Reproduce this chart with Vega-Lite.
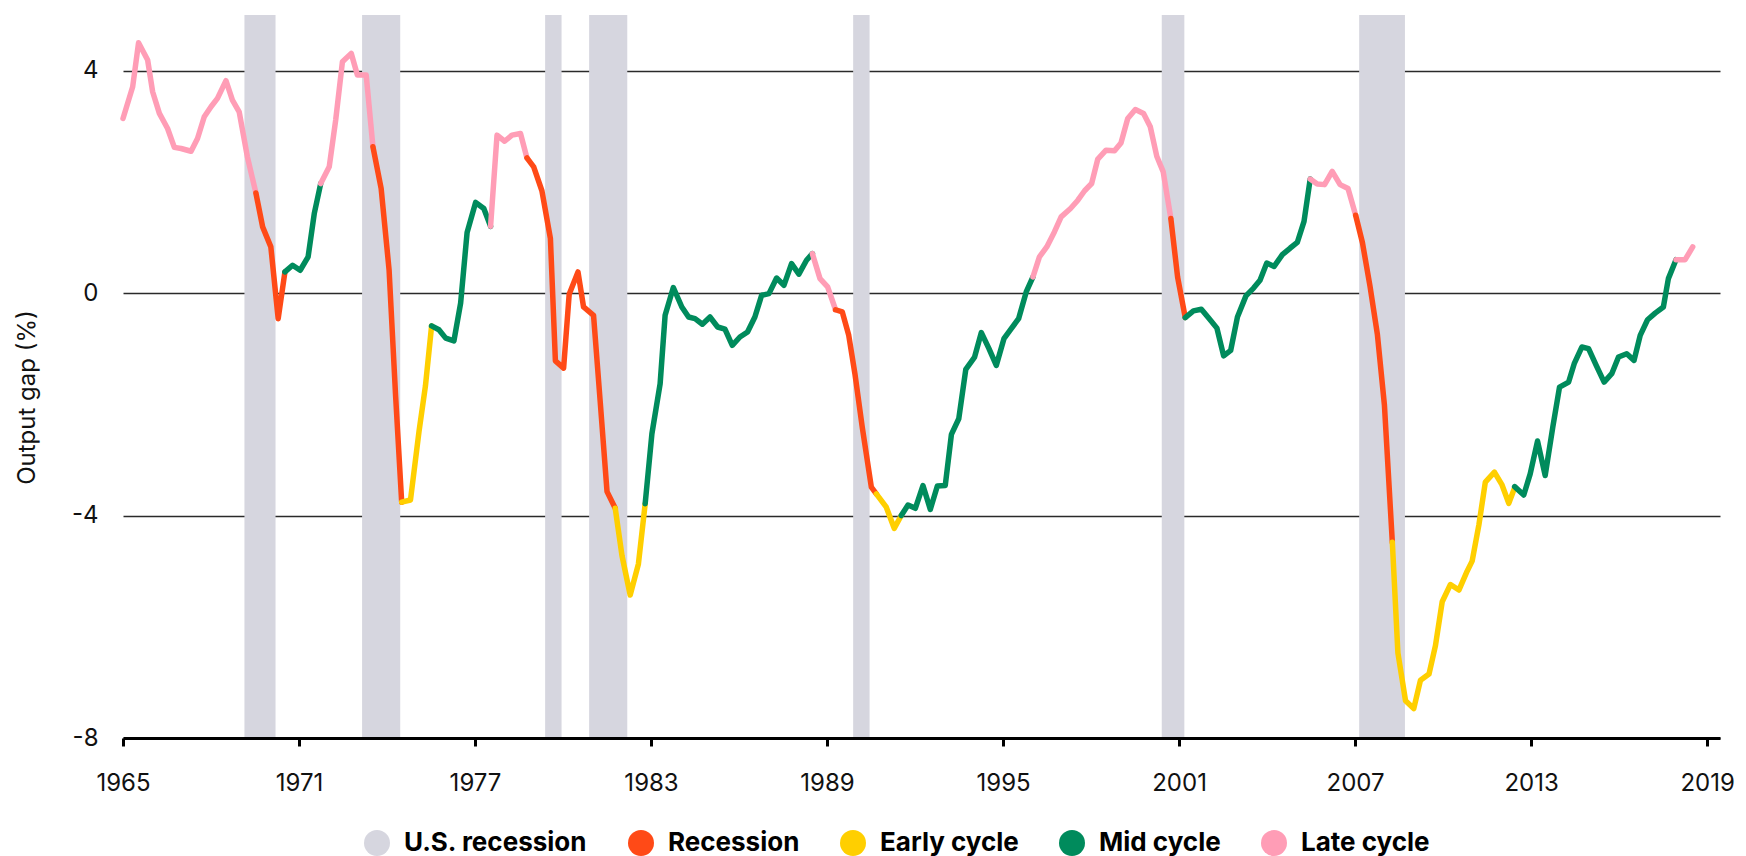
{
  "$schema": "https://vega.github.io/schema/vega-lite/v6.json",
  "autosize": "none",
  "width": 1597,
  "height": 723,
  "padding": {"left": 123, "top": 15, "right": 26, "bottom": 118},
  "background": "white",
  "config": {
    "font": "Inter",
    "view": {"stroke": null},
    "legend": {"padding": 0}
  },
  "layer": [
    {
      "data": {"values": [
        {"start": 1969.14, "end": 1970.20, "label": "U.S. recession"},
        {"start": 1973.15, "end": 1974.45, "label": "U.S. recession"},
        {"start": 1979.39, "end": 1979.95, "label": "U.S. recession"},
        {"start": 1980.89, "end": 1982.19, "label": "U.S. recession"},
        {"start": 1989.89, "end": 1990.45, "label": "U.S. recession"},
        {"start": 2000.41, "end": 2001.18, "label": "U.S. recession"},
        {"start": 2007.14, "end": 2008.70, "label": "U.S. recession"}
      ]},
      "mark": {"type": "rect", "opacity": 1},
      "encoding": {
        "x": {"field": "start", "type": "quantitative",
          "scale": {"domain": [1965, 2019.44], "nice": false, "zero": false},
          "axis": {
            "values": [1965, 1971, 1977, 1983, 1989, 1995, 2001, 2007, 2013, 2019],
            "format": "d", "title": null, "grid": false,
            "labelFontSize": 24, "labelColor": "#111", "labelPadding": 25,
            "domainColor": "#000", "domainWidth": 3,
            "tickColor": "#000", "tickWidth": 3, "tickSize": 8,
            "labelFlush": false, "zindex": 1
          }},
        "x2": {"field": "end"},
        "color": {"field": "label", "type": "nominal",
          "scale": {
            "domain": ["U.S. recession", "Recession", "Early cycle", "Mid cycle", "Late cycle"],
            "range": ["#d6d6df", "#ff4a17", "#ffcf00", "#008b5c", "#ff9db6"]
          },
          "legend": {
            "orient": "none", "direction": "horizontal",
            "legendX": 241, "legendY": 815,
            "title": null,
            "symbolType": "circle", "symbolSize": 676,
            "symbolStrokeWidth": 0, "symbolOpacity": 1,
            "labelFontSize": 26, "labelFontWeight": "bold", "labelColor": "#000",
            "labelOffset": 14, "columnPadding": 40, "labelLimit": 400
          }}
      }
    },
    {
      "data": {"values": [
        {"year": 1965.0, "gap": 3.14, "phase": "Late cycle", "seg": 1},
        {"year": 1965.33, "gap": 3.71, "phase": "Late cycle", "seg": 1},
        {"year": 1965.53, "gap": 4.5, "phase": "Late cycle", "seg": 1},
        {"year": 1965.84, "gap": 4.19, "phase": "Late cycle", "seg": 1},
        {"year": 1966.01, "gap": 3.62, "phase": "Late cycle", "seg": 1},
        {"year": 1966.24, "gap": 3.23, "phase": "Late cycle", "seg": 1},
        {"year": 1966.52, "gap": 2.96, "phase": "Late cycle", "seg": 1},
        {"year": 1966.75, "gap": 2.62, "phase": "Late cycle", "seg": 1},
        {"year": 1966.98, "gap": 2.6, "phase": "Late cycle", "seg": 1},
        {"year": 1967.32, "gap": 2.55, "phase": "Late cycle", "seg": 1},
        {"year": 1967.54, "gap": 2.78, "phase": "Late cycle", "seg": 1},
        {"year": 1967.77, "gap": 3.17, "phase": "Late cycle", "seg": 1},
        {"year": 1968.0, "gap": 3.35, "phase": "Late cycle", "seg": 1},
        {"year": 1968.22, "gap": 3.5, "phase": "Late cycle", "seg": 1},
        {"year": 1968.51, "gap": 3.82, "phase": "Late cycle", "seg": 1},
        {"year": 1968.73, "gap": 3.47, "phase": "Late cycle", "seg": 1},
        {"year": 1968.96, "gap": 3.26, "phase": "Late cycle", "seg": 1},
        {"year": 1969.24, "gap": 2.45, "phase": "Late cycle", "seg": 1},
        {"year": 1969.53, "gap": 1.8, "phase": "Late cycle", "seg": 1},

        {"year": 1969.53, "gap": 1.8, "phase": "Recession", "seg": 2},
        {"year": 1969.76, "gap": 1.19, "phase": "Recession", "seg": 2},
        {"year": 1970.04, "gap": 0.83, "phase": "Recession", "seg": 2},
        {"year": 1970.29, "gap": -0.46, "phase": "Recession", "seg": 2},
        {"year": 1970.52, "gap": 0.38, "phase": "Recession", "seg": 2},

        {"year": 1970.52, "gap": 0.38, "phase": "Mid cycle", "seg": 3},
        {"year": 1970.78, "gap": 0.5, "phase": "Mid cycle", "seg": 3},
        {"year": 1971.04, "gap": 0.41, "phase": "Mid cycle", "seg": 3},
        {"year": 1971.31, "gap": 0.65, "phase": "Mid cycle", "seg": 3},
        {"year": 1971.52, "gap": 1.43, "phase": "Mid cycle", "seg": 3},
        {"year": 1971.74, "gap": 1.97, "phase": "Mid cycle", "seg": 3},

        {"year": 1971.74, "gap": 1.97, "phase": "Late cycle", "seg": 4},
        {"year": 1972.03, "gap": 2.27, "phase": "Late cycle", "seg": 4},
        {"year": 1972.25, "gap": 3.11, "phase": "Late cycle", "seg": 4},
        {"year": 1972.48, "gap": 4.16, "phase": "Late cycle", "seg": 4},
        {"year": 1972.78, "gap": 4.31, "phase": "Late cycle", "seg": 4},
        {"year": 1972.99, "gap": 3.92, "phase": "Late cycle", "seg": 4},
        {"year": 1973.29, "gap": 3.92, "phase": "Late cycle", "seg": 4},
        {"year": 1973.52, "gap": 2.63, "phase": "Late cycle", "seg": 4},

        {"year": 1973.52, "gap": 2.63, "phase": "Recession", "seg": 5},
        {"year": 1973.8, "gap": 1.88, "phase": "Recession", "seg": 5},
        {"year": 1974.07, "gap": 0.42, "phase": "Recession", "seg": 5},
        {"year": 1974.29, "gap": -1.82, "phase": "Recession", "seg": 5},
        {"year": 1974.5, "gap": -3.76, "phase": "Recession", "seg": 5},

        {"year": 1974.5, "gap": -3.76, "phase": "Early cycle", "seg": 6},
        {"year": 1974.8, "gap": -3.72, "phase": "Early cycle", "seg": 6},
        {"year": 1975.09, "gap": -2.49, "phase": "Early cycle", "seg": 6},
        {"year": 1975.31, "gap": -1.67, "phase": "Early cycle", "seg": 6},
        {"year": 1975.52, "gap": -0.59, "phase": "Early cycle", "seg": 6},

        {"year": 1975.52, "gap": -0.59, "phase": "Mid cycle", "seg": 7},
        {"year": 1975.77, "gap": -0.66, "phase": "Mid cycle", "seg": 7},
        {"year": 1976.0, "gap": -0.81, "phase": "Mid cycle", "seg": 7},
        {"year": 1976.28, "gap": -0.86, "phase": "Mid cycle", "seg": 7},
        {"year": 1976.51, "gap": -0.18, "phase": "Mid cycle", "seg": 7},
        {"year": 1976.73, "gap": 1.09, "phase": "Mid cycle", "seg": 7},
        {"year": 1977.02, "gap": 1.63, "phase": "Mid cycle", "seg": 7},
        {"year": 1977.3, "gap": 1.52, "phase": "Mid cycle", "seg": 7},
        {"year": 1977.53, "gap": 1.2, "phase": "Mid cycle", "seg": 7},

        {"year": 1977.53, "gap": 1.2, "phase": "Late cycle", "seg": 8},
        {"year": 1977.75, "gap": 2.84, "phase": "Late cycle", "seg": 8},
        {"year": 1978.01, "gap": 2.73, "phase": "Late cycle", "seg": 8},
        {"year": 1978.26, "gap": 2.84, "phase": "Late cycle", "seg": 8},
        {"year": 1978.55, "gap": 2.87, "phase": "Late cycle", "seg": 8},
        {"year": 1978.77, "gap": 2.43, "phase": "Late cycle", "seg": 8},

        {"year": 1978.77, "gap": 2.43, "phase": "Recession", "seg": 9},
        {"year": 1979.0, "gap": 2.27, "phase": "Recession", "seg": 9},
        {"year": 1979.28, "gap": 1.84, "phase": "Recession", "seg": 9},
        {"year": 1979.57, "gap": 0.98, "phase": "Recession", "seg": 9},
        {"year": 1979.74, "gap": -1.22, "phase": "Recession", "seg": 9},
        {"year": 1980.02, "gap": -1.35, "phase": "Recession", "seg": 9},
        {"year": 1980.21, "gap": -0.02, "phase": "Recession", "seg": 9},
        {"year": 1980.51, "gap": 0.38, "phase": "Recession", "seg": 9},
        {"year": 1980.7, "gap": -0.25, "phase": "Recession", "seg": 9},
        {"year": 1981.04, "gap": -0.4, "phase": "Recession", "seg": 9},
        {"year": 1981.27, "gap": -1.97, "phase": "Recession", "seg": 9},
        {"year": 1981.5, "gap": -3.57, "phase": "Recession", "seg": 9},
        {"year": 1981.78, "gap": -3.87, "phase": "Recession", "seg": 9},

        {"year": 1981.78, "gap": -3.87, "phase": "Early cycle", "seg": 10},
        {"year": 1982.01, "gap": -4.72, "phase": "Early cycle", "seg": 10},
        {"year": 1982.29, "gap": -5.43, "phase": "Early cycle", "seg": 10},
        {"year": 1982.57, "gap": -4.87, "phase": "Early cycle", "seg": 10},
        {"year": 1982.8, "gap": -3.79, "phase": "Early cycle", "seg": 10},

        {"year": 1982.8, "gap": -3.79, "phase": "Mid cycle", "seg": 11},
        {"year": 1983.03, "gap": -2.53, "phase": "Mid cycle", "seg": 11},
        {"year": 1983.31, "gap": -1.63, "phase": "Mid cycle", "seg": 11},
        {"year": 1983.48, "gap": -0.4, "phase": "Mid cycle", "seg": 11},
        {"year": 1983.76, "gap": 0.1, "phase": "Mid cycle", "seg": 11},
        {"year": 1984.05, "gap": -0.25, "phase": "Mid cycle", "seg": 11},
        {"year": 1984.28, "gap": -0.43, "phase": "Mid cycle", "seg": 11},
        {"year": 1984.5, "gap": -0.46, "phase": "Mid cycle", "seg": 11},
        {"year": 1984.75, "gap": -0.56, "phase": "Mid cycle", "seg": 11},
        {"year": 1985.01, "gap": -0.43, "phase": "Mid cycle", "seg": 11},
        {"year": 1985.27, "gap": -0.61, "phase": "Mid cycle", "seg": 11},
        {"year": 1985.52, "gap": -0.65, "phase": "Mid cycle", "seg": 11},
        {"year": 1985.77, "gap": -0.94, "phase": "Mid cycle", "seg": 11},
        {"year": 1986.03, "gap": -0.79, "phase": "Mid cycle", "seg": 11},
        {"year": 1986.29, "gap": -0.7, "phase": "Mid cycle", "seg": 11},
        {"year": 1986.54, "gap": -0.43, "phase": "Mid cycle", "seg": 11},
        {"year": 1986.77, "gap": -0.04, "phase": "Mid cycle", "seg": 11},
        {"year": 1987.02, "gap": -0.01, "phase": "Mid cycle", "seg": 11},
        {"year": 1987.28, "gap": 0.27, "phase": "Mid cycle", "seg": 11},
        {"year": 1987.53, "gap": 0.14, "phase": "Mid cycle", "seg": 11},
        {"year": 1987.79, "gap": 0.53, "phase": "Mid cycle", "seg": 11},
        {"year": 1988.04, "gap": 0.34, "phase": "Mid cycle", "seg": 11},
        {"year": 1988.3, "gap": 0.59, "phase": "Mid cycle", "seg": 11},
        {"year": 1988.5, "gap": 0.71, "phase": "Mid cycle", "seg": 11},

        {"year": 1988.5, "gap": 0.71, "phase": "Late cycle", "seg": 12},
        {"year": 1988.76, "gap": 0.26, "phase": "Late cycle", "seg": 12},
        {"year": 1989.02, "gap": 0.11, "phase": "Late cycle", "seg": 12},
        {"year": 1989.29, "gap": -0.3, "phase": "Late cycle", "seg": 12},

        {"year": 1989.29, "gap": -0.3, "phase": "Recession", "seg": 13},
        {"year": 1989.52, "gap": -0.34, "phase": "Recession", "seg": 13},
        {"year": 1989.74, "gap": -0.76, "phase": "Recession", "seg": 13},
        {"year": 1989.95, "gap": -1.45, "phase": "Recession", "seg": 13},
        {"year": 1990.2, "gap": -2.41, "phase": "Recession", "seg": 13},
        {"year": 1990.51, "gap": -3.49, "phase": "Recession", "seg": 13},
        {"year": 1990.68, "gap": -3.61, "phase": "Recession", "seg": 13},

        {"year": 1990.68, "gap": -3.61, "phase": "Early cycle", "seg": 14},
        {"year": 1991.02, "gap": -3.85, "phase": "Early cycle", "seg": 14},
        {"year": 1991.29, "gap": -4.23, "phase": "Early cycle", "seg": 14},
        {"year": 1991.53, "gap": -4.0, "phase": "Early cycle", "seg": 14},

        {"year": 1991.53, "gap": -4.0, "phase": "Mid cycle", "seg": 15},
        {"year": 1991.76, "gap": -3.81, "phase": "Mid cycle", "seg": 15},
        {"year": 1992.01, "gap": -3.87, "phase": "Mid cycle", "seg": 15},
        {"year": 1992.27, "gap": -3.46, "phase": "Mid cycle", "seg": 15},
        {"year": 1992.52, "gap": -3.89, "phase": "Mid cycle", "seg": 15},
        {"year": 1992.76, "gap": -3.47, "phase": "Mid cycle", "seg": 15},
        {"year": 1993.03, "gap": -3.46, "phase": "Mid cycle", "seg": 15},
        {"year": 1993.24, "gap": -2.54, "phase": "Mid cycle", "seg": 15},
        {"year": 1993.49, "gap": -2.26, "phase": "Mid cycle", "seg": 15},
        {"year": 1993.73, "gap": -1.37, "phase": "Mid cycle", "seg": 15},
        {"year": 1994.03, "gap": -1.15, "phase": "Mid cycle", "seg": 15},
        {"year": 1994.26, "gap": -0.71, "phase": "Mid cycle", "seg": 15},
        {"year": 1994.52, "gap": -1.0, "phase": "Mid cycle", "seg": 15},
        {"year": 1994.77, "gap": -1.3, "phase": "Mid cycle", "seg": 15},
        {"year": 1995.03, "gap": -0.82, "phase": "Mid cycle", "seg": 15},
        {"year": 1995.28, "gap": -0.64, "phase": "Mid cycle", "seg": 15},
        {"year": 1995.53, "gap": -0.46, "phase": "Mid cycle", "seg": 15},
        {"year": 1995.79, "gap": 0.02, "phase": "Mid cycle", "seg": 15},
        {"year": 1996.02, "gap": 0.29, "phase": "Mid cycle", "seg": 15},

        {"year": 1996.02, "gap": 0.29, "phase": "Late cycle", "seg": 16},
        {"year": 1996.24, "gap": 0.65, "phase": "Late cycle", "seg": 16},
        {"year": 1996.49, "gap": 0.83, "phase": "Late cycle", "seg": 16},
        {"year": 1996.75, "gap": 1.1, "phase": "Late cycle", "seg": 16},
        {"year": 1996.98, "gap": 1.37, "phase": "Late cycle", "seg": 16},
        {"year": 1997.3, "gap": 1.52, "phase": "Late cycle", "seg": 16},
        {"year": 1997.55, "gap": 1.67, "phase": "Late cycle", "seg": 16},
        {"year": 1997.78, "gap": 1.84, "phase": "Late cycle", "seg": 16},
        {"year": 1998.02, "gap": 1.97, "phase": "Late cycle", "seg": 16},
        {"year": 1998.23, "gap": 2.41, "phase": "Late cycle", "seg": 16},
        {"year": 1998.51, "gap": 2.57, "phase": "Late cycle", "seg": 16},
        {"year": 1998.8, "gap": 2.56, "phase": "Late cycle", "seg": 16},
        {"year": 1999.02, "gap": 2.7, "phase": "Late cycle", "seg": 16},
        {"year": 1999.25, "gap": 3.14, "phase": "Late cycle", "seg": 16},
        {"year": 1999.51, "gap": 3.3, "phase": "Late cycle", "seg": 16},
        {"year": 1999.79, "gap": 3.23, "phase": "Late cycle", "seg": 16},
        {"year": 2000.02, "gap": 2.99, "phase": "Late cycle", "seg": 16},
        {"year": 2000.24, "gap": 2.46, "phase": "Late cycle", "seg": 16},
        {"year": 2000.46, "gap": 2.18, "phase": "Late cycle", "seg": 16},
        {"year": 2000.72, "gap": 1.34, "phase": "Late cycle", "seg": 16},

        {"year": 2000.72, "gap": 1.34, "phase": "Recession", "seg": 17},
        {"year": 2000.95, "gap": 0.29, "phase": "Recession", "seg": 17},
        {"year": 2001.21, "gap": -0.44, "phase": "Recession", "seg": 17},

        {"year": 2001.21, "gap": -0.44, "phase": "Mid cycle", "seg": 18},
        {"year": 2001.49, "gap": -0.32, "phase": "Mid cycle", "seg": 18},
        {"year": 2001.76, "gap": -0.29, "phase": "Mid cycle", "seg": 18},
        {"year": 2002.03, "gap": -0.46, "phase": "Mid cycle", "seg": 18},
        {"year": 2002.29, "gap": -0.63, "phase": "Mid cycle", "seg": 18},
        {"year": 2002.52, "gap": -1.13, "phase": "Mid cycle", "seg": 18},
        {"year": 2002.76, "gap": -1.03, "phase": "Mid cycle", "seg": 18},
        {"year": 2002.99, "gap": -0.43, "phase": "Mid cycle", "seg": 18},
        {"year": 2003.28, "gap": -0.05, "phase": "Mid cycle", "seg": 18},
        {"year": 2003.54, "gap": 0.09, "phase": "Mid cycle", "seg": 18},
        {"year": 2003.76, "gap": 0.23, "phase": "Mid cycle", "seg": 18},
        {"year": 2003.99, "gap": 0.54, "phase": "Mid cycle", "seg": 18},
        {"year": 2004.24, "gap": 0.48, "phase": "Mid cycle", "seg": 18},
        {"year": 2004.52, "gap": 0.69, "phase": "Mid cycle", "seg": 18},
        {"year": 2004.79, "gap": 0.81, "phase": "Mid cycle", "seg": 18},
        {"year": 2005.03, "gap": 0.91, "phase": "Mid cycle", "seg": 18},
        {"year": 2005.26, "gap": 1.29, "phase": "Mid cycle", "seg": 18},
        {"year": 2005.47, "gap": 2.05, "phase": "Mid cycle", "seg": 18},

        {"year": 2005.47, "gap": 2.05, "phase": "Late cycle", "seg": 19},
        {"year": 2005.71, "gap": 1.96, "phase": "Late cycle", "seg": 19},
        {"year": 2005.96, "gap": 1.95, "phase": "Late cycle", "seg": 19},
        {"year": 2006.22, "gap": 2.19, "phase": "Late cycle", "seg": 19},
        {"year": 2006.49, "gap": 1.95, "phase": "Late cycle", "seg": 19},
        {"year": 2006.76, "gap": 1.88, "phase": "Late cycle", "seg": 19},
        {"year": 2007.02, "gap": 1.4, "phase": "Late cycle", "seg": 19},

        {"year": 2007.02, "gap": 1.4, "phase": "Recession", "seg": 20},
        {"year": 2007.25, "gap": 0.91, "phase": "Recession", "seg": 20},
        {"year": 2007.51, "gap": 0.12, "phase": "Recession", "seg": 20},
        {"year": 2007.76, "gap": -0.74, "phase": "Recession", "seg": 20},
        {"year": 2008.0, "gap": -2.01, "phase": "Recession", "seg": 20},
        {"year": 2008.27, "gap": -4.48, "phase": "Recession", "seg": 20},

        {"year": 2008.27, "gap": -4.48, "phase": "Early cycle", "seg": 21},
        {"year": 2008.46, "gap": -6.47, "phase": "Early cycle", "seg": 21},
        {"year": 2008.72, "gap": -7.33, "phase": "Early cycle", "seg": 21},
        {"year": 2009.0, "gap": -7.47, "phase": "Early cycle", "seg": 21},
        {"year": 2009.23, "gap": -6.96, "phase": "Early cycle", "seg": 21},
        {"year": 2009.52, "gap": -6.85, "phase": "Early cycle", "seg": 21},
        {"year": 2009.74, "gap": -6.34, "phase": "Early cycle", "seg": 21},
        {"year": 2009.97, "gap": -5.55, "phase": "Early cycle", "seg": 21},
        {"year": 2010.25, "gap": -5.24, "phase": "Early cycle", "seg": 21},
        {"year": 2010.54, "gap": -5.34, "phase": "Early cycle", "seg": 21},
        {"year": 2010.82, "gap": -5.0, "phase": "Early cycle", "seg": 21},
        {"year": 2010.99, "gap": -4.82, "phase": "Early cycle", "seg": 21},
        {"year": 2011.22, "gap": -4.17, "phase": "Early cycle", "seg": 21},
        {"year": 2011.44, "gap": -3.4, "phase": "Early cycle", "seg": 21},
        {"year": 2011.75, "gap": -3.22, "phase": "Early cycle", "seg": 21},
        {"year": 2012.01, "gap": -3.45, "phase": "Early cycle", "seg": 21},
        {"year": 2012.24, "gap": -3.78, "phase": "Early cycle", "seg": 21},
        {"year": 2012.44, "gap": -3.5, "phase": "Early cycle", "seg": 21},

        {"year": 2012.44, "gap": -3.48, "phase": "Mid cycle", "seg": 22},
        {"year": 2012.75, "gap": -3.63, "phase": "Mid cycle", "seg": 22},
        {"year": 2012.97, "gap": -3.25, "phase": "Mid cycle", "seg": 22},
        {"year": 2013.22, "gap": -2.66, "phase": "Mid cycle", "seg": 22},
        {"year": 2013.48, "gap": -3.28, "phase": "Mid cycle", "seg": 22},
        {"year": 2013.74, "gap": -2.41, "phase": "Mid cycle", "seg": 22},
        {"year": 2013.97, "gap": -1.69, "phase": "Mid cycle", "seg": 22},
        {"year": 2014.28, "gap": -1.6, "phase": "Mid cycle", "seg": 22},
        {"year": 2014.47, "gap": -1.27, "phase": "Mid cycle", "seg": 22},
        {"year": 2014.73, "gap": -0.97, "phase": "Mid cycle", "seg": 22},
        {"year": 2014.96, "gap": -1.0, "phase": "Mid cycle", "seg": 22},
        {"year": 2015.22, "gap": -1.3, "phase": "Mid cycle", "seg": 22},
        {"year": 2015.49, "gap": -1.6, "phase": "Mid cycle", "seg": 22},
        {"year": 2015.75, "gap": -1.45, "phase": "Mid cycle", "seg": 22},
        {"year": 2015.98, "gap": -1.15, "phase": "Mid cycle", "seg": 22},
        {"year": 2016.26, "gap": -1.09, "phase": "Mid cycle", "seg": 22},
        {"year": 2016.51, "gap": -1.21, "phase": "Mid cycle", "seg": 22},
        {"year": 2016.72, "gap": -0.76, "phase": "Mid cycle", "seg": 22},
        {"year": 2016.97, "gap": -0.48, "phase": "Mid cycle", "seg": 22},
        {"year": 2017.23, "gap": -0.36, "phase": "Mid cycle", "seg": 22},
        {"year": 2017.51, "gap": -0.25, "phase": "Mid cycle", "seg": 22},
        {"year": 2017.68, "gap": 0.26, "phase": "Mid cycle", "seg": 22},
        {"year": 2017.94, "gap": 0.6, "phase": "Mid cycle", "seg": 22},

        {"year": 2017.94, "gap": 0.6, "phase": "Late cycle", "seg": 23},
        {"year": 2018.25, "gap": 0.6, "phase": "Late cycle", "seg": 23},
        {"year": 2018.51, "gap": 0.83, "phase": "Late cycle", "seg": 23}
      ]},
      "mark": {"type": "line", "strokeWidth": 5.5, "strokeCap": "round", "strokeJoin": "round"},
      "encoding": {
        "x": {"field": "year", "type": "quantitative"},
        "y": {"field": "gap", "type": "quantitative",
          "scale": {"domain": [-8, 5], "nice": false, "zero": false},
          "axis": {
            "values": [-8, -4, 0, 4],
            "labelExpr": "replace(datum.label, '−', '-')",
            "title": "Output gap (%)",
            "titleFontSize": 24, "titleFontWeight": "normal", "titleColor": "#111",
            "titleX": -96, "titleY": 382, "titleAlign": "center", "titleBaseline": "middle", "titleAngle": -90,
            "labelFontSize": 24, "labelColor": "#111", "labelPadding": 25,
            "domain": false, "ticks": false,
            "grid": true, "gridColor": "#2a2a2a", "gridWidth": 1.3
          }},
        "color": {"field": "phase", "type": "nominal", "legend": null},
        "detail": {"field": "seg", "type": "nominal"},
        "order": {"field": "year", "type": "quantitative"}
      }
    }
  ]
}
